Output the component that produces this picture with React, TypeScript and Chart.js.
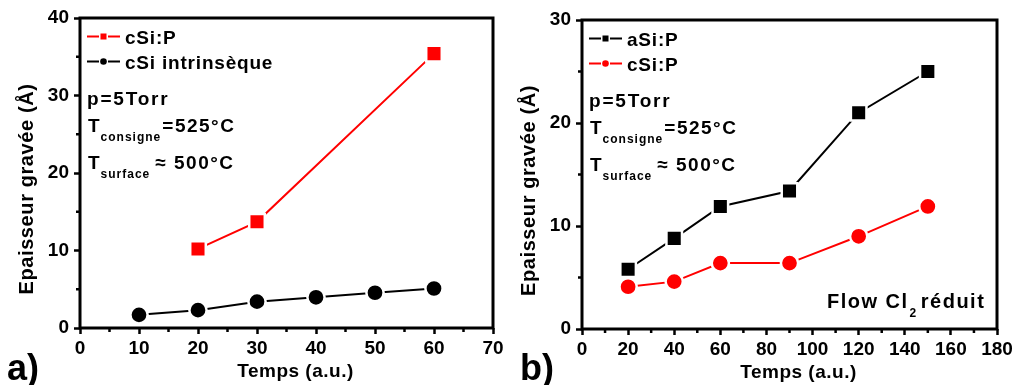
import React, { useEffect, useRef } from 'react';
import { Chart, registerables } from 'chart.js';

Chart.register(...registerables);

const FONT = "'Liberation Sans', Arial, Helvetica, sans-serif";

// ---- Panel a) ----
const aCSiPTimes = [20, 30, 60];
const aCSiPValues = [10.2, 13.7, 35.4];
const aIntrTimes = [10, 20, 30, 40, 50, 60];
const aIntrValues = [1.7, 2.3, 3.4, 3.96, 4.55, 5.1];
const aXMinorTicks = [5, 15, 25, 35, 45, 55, 65];
const aYMinorTicks = [5, 15, 25, 35];

// ---- Panel b) ----
const bTimes = [20, 40, 60, 90, 120, 150];
const bASiPValues = [5.8, 8.8, 11.9, 13.4, 21.0, 25.0];
const bCSiPValues = [4.1, 4.6, 6.4, 6.4, 9.0, 11.9];
const bXMinorTicks = [10, 30, 50, 70, 90, 110, 130, 150, 170];
const bYMinorTicks = [5, 15, 25];

const xTitle = 'Temps (a.u.)';
const yTitle = 'Epaisseur gravée (Å)';
const aLegendLabels = ['cSi:P', 'cSi intrinsèque'];
const bLegendLabels = ['aSi:P', 'cSi:P'];

const RED = '#ff0000';
const BLACK = '#000000';

function txt(ctx: CanvasRenderingContext2D, s: string, x: number, y: number, size: number, spacing = 0.8, align: CanvasTextAlign = 'left') {
  ctx.font = `bold ${size}px ${FONT}`;
  (ctx as any).letterSpacing = spacing + 'px';
  ctx.textAlign = align;
  ctx.textBaseline = 'alphabetic';
  ctx.fillText(s, x, y);
  return ctx.measureText(s).width;
}

const decorPlugin = {
  id: 'decor',
  afterDraw(chart: any, _args: any, opts: any) {
    const ctx: CanvasRenderingContext2D = chart.ctx;
    const ca = chart.chartArea;
    const xs = chart.scales.x;
    const ys = chart.scales.y;
    ctx.save();
    ctx.fillStyle = BLACK;
    ctx.strokeStyle = BLACK;
    // frame
    ctx.lineWidth = 3;
    ctx.strokeRect(ca.left, ca.top, ca.right - ca.left, ca.bottom - ca.top);
    // minor ticks
    ctx.lineWidth = 2.5;
    ctx.beginPath();
    for (const v of opts.xMinor) {
      const p = xs.getPixelForValue(v);
      ctx.moveTo(p, ca.bottom);
      ctx.lineTo(p, ca.bottom + 4);
    }
    for (const v of opts.yMinor) {
      const p = ys.getPixelForValue(v);
      ctx.moveTo(ca.left, p);
      ctx.lineTo(ca.left - 4, p);
    }
    ctx.stroke();

    // legend
    opts.legend.forEach((it: any, i: number) => {
      const cy = ca.top + 18.5 + i * 25;
      const x0 = ca.left + 7;
      ctx.strokeStyle = it.color;
      ctx.fillStyle = it.color;
      ctx.lineWidth = 2;
      ctx.beginPath();
      ctx.moveTo(x0, cy);
      ctx.lineTo(x0 + 12, cy);
      ctx.moveTo(x0 + 21, cy);
      ctx.lineTo(x0 + 33, cy);
      ctx.stroke();
      if (it.style === 'rect') {
        ctx.fillRect(x0 + 13.5, cy - 3, 6, 6);
      } else {
        ctx.beginPath();
        ctx.arc(x0 + 16.5, cy, 3.3, 0, Math.PI * 2);
        ctx.fill();
      }
      ctx.fillStyle = BLACK;
      txt(ctx, it.label, x0 + 38, cy + 7, 19, 0.8);
    });

    // annotation
    ctx.fillStyle = BLACK;
    const ax = ca.left + 8;
    txt(ctx, 'p=5Torr', ax - 1, ca.top + 87, 19, 1.8);
    let x = ax;
    let by = ca.top + 114;
    x += txt(ctx, 'T', x, by, 19, 1);
    x += txt(ctx, 'consigne', x, by + 9, 12, 1) + 1;
    txt(ctx, '=525°C', x, by, 19, 1.5);
    x = ax;
    by = ca.top + 151;
    x += txt(ctx, 'T', x, by, 19, 1);
    x += txt(ctx, 'surface', x, by + 9, 12, 1) + 5;
    txt(ctx, '≈ 500°C', x, by, 19, 1.5);

    if (opts.flow) {
      let fx = ca.right - 170;
      const fy = ca.bottom - 21;
      fx += txt(ctx, 'Flow Cl', fx, fy, 20, 1.5);
      fx += txt(ctx, '2', fx + 1, fy + 9, 12, 0.5) + 5;
      txt(ctx, 'réduit', fx, fy, 20, 1.5);
    }

    // axis titles
    txt(ctx, xTitle, (ca.left + ca.right) / 2 + 9, ca.bottom + 49, 19, 0.5, 'center');
    ctx.save();
    ctx.translate(ca.left - 54 + 7, (ca.top + ca.bottom) / 2 + 16);
    ctx.rotate(-Math.PI / 2);
    txt(ctx, yTitle, 0, 0, 20, 0.6, 'center');
    ctx.restore();

    // panel label
    txt(ctx, opts.panel, opts.panelX, 380, 36, 0, 'left');
    ctx.restore();
  },
};

function makeScales(xMax: number, xStep: number, yMax: number, yWidth: number, xHeight: number) {
  const common = {
    grid: { drawOnChartArea: false, drawTicks: true, tickLength: 6, tickWidth: 2.5, tickColor: BLACK },
    border: { display: false },
  };
  return {
    x: {
      type: 'linear' as const,
      min: 0,
      max: xMax,
      ...common,
      ticks: { stepSize: xStep, autoSkip: false, color: BLACK, padding: 3, font: { family: FONT, size: 19, weight: 'bold' as const } },
      afterFit: (s: any) => { s.height = xHeight; },
    },
    y: {
      type: 'linear' as const,
      min: 0,
      max: yMax,
      ...common,
      ticks: { stepSize: 10, autoSkip: false, color: BLACK, padding: 5, font: { family: FONT, size: 19, weight: 'bold' as const } },
      afterFit: (s: any) => { s.width = yWidth; },
    },
  };
}

function series(times: number[], values: number[], color: string, style: 'rect' | 'circle') {
  return {
    data: times.map((t, i) => ({ x: t, y: values[i] })),
    borderColor: color,
    backgroundColor: color,
    borderWidth: 2,
    showLine: true,
    pointStyle: style,
    pointRadius: style === 'rect' ? 11 : 8.6,
    pointBackgroundColor: color,
    pointBorderColor: '#ffffff',
    pointBorderWidth: 2.5,
  };
}

function configA(): any {
  return {
    type: 'scatter',
    data: {
      datasets: [
        series(aCSiPTimes, aCSiPValues, RED, 'rect'),
        series(aIntrTimes, aIntrValues, BLACK, 'circle'),
      ],
    },
    options: {
      responsive: false,
      animation: false,
      layout: { padding: { top: 18, right: 15, left: 0, bottom: 0 } },
      plugins: {
        legend: { display: false },
        tooltip: { enabled: false },
        decor: {
          xMinor: aXMinorTicks,
          yMinor: aYMinorTicks,
          legend: [
            { label: aLegendLabels[0], color: RED, style: 'rect' },
            { label: aLegendLabels[1], color: BLACK, style: 'circle' },
          ],
          flow: false,
          panel: 'a)',
          panelX: 7,
        },
      },
      scales: makeScales(70, 10, 40, 80, 57),
    },
    plugins: [decorPlugin],
  };
}

function configB(): any {
  return {
    type: 'scatter',
    data: {
      datasets: [
        series(bTimes, bASiPValues, BLACK, 'rect'),
        series(bTimes, bCSiPValues, RED, 'circle'),
      ],
    },
    options: {
      responsive: false,
      animation: false,
      layout: { padding: { top: 20, right: 19, left: 0, bottom: 0 } },
      plugins: {
        legend: { display: false },
        tooltip: { enabled: false },
        decor: {
          xMinor: bXMinorTicks,
          yMinor: bYMinorTicks,
          legend: [
            { label: bLegendLabels[0], color: BLACK, style: 'rect' },
            { label: bLegendLabels[1], color: RED, style: 'circle' },
          ],
          flow: true,
          panel: 'b)',
          panelX: 12,
        },
      },
      scales: makeScales(180, 20, 30, 74, 56),
    },
    plugins: [decorPlugin],
  };
}

function Panel({ left, make }: { left: number; make: () => any }) {
  const ref = useRef<HTMLCanvasElement>(null);
  useEffect(() => {
    const chart = new Chart(ref.current as HTMLCanvasElement, make());
    return () => chart.destroy();
  }, []);
  return (
    <div style={{ position: 'absolute', left, top: 0, width: 508, height: 385 }}>
      <canvas ref={ref} width={508} height={385} style={{ display: 'block' }} />
    </div>
  );
}

export default function App() {
  return (
    <div style={{ position: 'fixed', left: 0, top: 0, width: 1016, height: 385, background: '#fff', overflow: 'hidden' }}>
      <Panel left={0} make={configA} />
      <Panel left={508} make={configB} />
    </div>
  );
}
